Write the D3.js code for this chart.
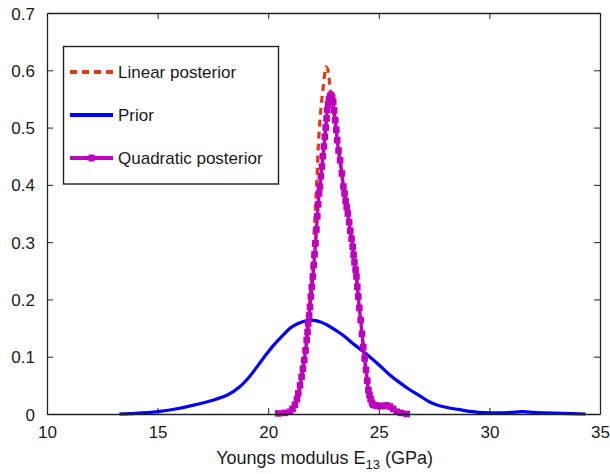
<!DOCTYPE html>
<html>
<head>
<meta charset="utf-8">
<script src="https://cdn.jsdelivr.net/npm/d3@7"></script>
<style>
  html, body { margin: 0; padding: 0; background: #fff; }
  svg { display: block; }
  text { font-family: "Liberation Sans", Arial, Helvetica, sans-serif; fill: #1a1a1a; }
</style>
</head>
<body>
<svg id="chart" width="610" height="474"></svg>
<script>
// ---------------- Data ----------------
const xTicks = [10, 15, 20, 25, 30, 35];
const yTicks = [0, 0.1, 0.2, 0.3, 0.4, 0.5, 0.6, 0.7];
const seriesNames = ["Linear posterior", "Prior", "Quadratic posterior"];

// Linear posterior (red dashed)
const linearX = [20.46, 20.9, 21.2, 21.4, 21.55, 21.7, 21.85, 21.98, 22.08, 22.19, 22.28, 22.39, 22.5, 22.62, 22.68, 22.76, 22.85, 22.95, 23.05, 23.2, 23.4, 23.6, 23.8, 24.0, 24.18, 24.3, 24.42, 24.55, 24.7, 25.0, 25.3, 25.6, 25.9, 26.2];
const linearY = [0, 0.003, 0.014, 0.04, 0.075, 0.12, 0.18, 0.25, 0.32, 0.40, 0.478, 0.536, 0.575, 0.606, 0.603, 0.583, 0.552, 0.53, 0.5, 0.455, 0.397, 0.348, 0.295, 0.235, 0.164, 0.115, 0.075, 0.04, 0.018, 0.013, 0.013, 0.009, 0.003, 0];

// Prior (blue)
const priorX = [13.27, 14.0, 15.0, 16.0, 16.7, 17.5, 18.2, 18.7, 19.15, 19.6, 19.93, 20.2, 20.68, 21.0, 21.4, 21.97, 22.4, 22.9, 23.4, 23.8, 24.3, 25.0, 25.5, 25.8, 26.3, 26.8, 27.3, 27.7, 28.13, 28.6, 29.0, 29.5, 30.0, 30.5, 31.0, 31.5, 32.0, 32.5, 33.3, 34.35];
const priorY = [0, 0.001, 0.004, 0.010, 0.016, 0.024, 0.034, 0.047, 0.065, 0.088, 0.105, 0.118, 0.138, 0.150, 0.159, 0.164, 0.160, 0.150, 0.137, 0.124, 0.109, 0.086, 0.068, 0.059, 0.045, 0.033, 0.021, 0.015, 0.011, 0.008, 0.005, 0.003, 0.002, 0.002, 0.003, 0.004, 0.003, 0.002, 0.001, 0];

// Quadratic posterior (magenta with markers)
const quadX = [20.46, 20.75, 20.99, 21.1, 21.21, 21.3, 21.36, 21.44, 21.51, 21.57, 21.63, 21.69, 21.74, 21.78, 21.81, 21.85, 21.89, 21.93, 21.97, 22.02, 22.06, 22.10, 22.14, 22.18, 22.22, 22.26, 22.30, 22.34, 22.38, 22.43, 22.47, 22.52, 22.56, 22.60, 22.64, 22.67, 22.71, 22.75, 22.80, 22.84, 22.89, 22.94, 22.98, 23.03, 23.08, 23.12, 23.18, 23.25, 23.33, 23.40, 23.45, 23.5, 23.55, 23.6, 23.66, 23.71, 23.77, 23.82, 23.86, 23.9, 23.95, 23.99, 24.03, 24.07, 24.12, 24.18, 24.24, 24.30, 24.36, 24.42, 24.48, 24.53, 24.58, 24.63, 24.69, 24.75, 24.85, 24.95, 25.08, 25.2, 25.35, 25.51, 25.65, 25.81, 26.0, 26.26];
const quadY = [0.001, 0.002, 0.004, 0.009, 0.016, 0.026, 0.036, 0.05, 0.065, 0.079, 0.094, 0.111, 0.129, 0.143, 0.158, 0.172, 0.187, 0.205, 0.222, 0.24, 0.26, 0.279, 0.298, 0.322, 0.345, 0.366, 0.385, 0.397, 0.415, 0.432, 0.45, 0.467, 0.484, 0.50, 0.516, 0.531, 0.541, 0.55, 0.555, 0.557, 0.553, 0.545, 0.53, 0.513, 0.496, 0.478, 0.46, 0.443, 0.42, 0.397, 0.385, 0.372, 0.361, 0.350, 0.335, 0.32, 0.306, 0.292, 0.278, 0.265, 0.252, 0.240, 0.222, 0.205, 0.185, 0.164, 0.14, 0.117, 0.097, 0.077, 0.058, 0.042, 0.033, 0.026, 0.02, 0.016, 0.015, 0.014, 0.014, 0.014, 0.015, 0.013, 0.009, 0.004, 0.002, 0.0];

// ---------------- Chart ----------------
const svg = d3.select("#chart");
const margin = { left: 47, right: 10, top: 13, bottom: 60 };
const W = 610, H = 474;
const x = d3.scaleLinear().domain([10, 35]).range([margin.left, W - margin.right]);
const y = d3.scaleLinear().domain([0, 0.7]).range([H - margin.bottom, margin.top]);

const colors = { linear: "#e03a12", prior: "#0000ff", quad: "#bf00bf" };

const mk = d3.line().x(d => x(d[0])).y(d => y(d[1])).curve(d3.curveCatmullRom.alpha(0.5));

const zip = (a, b) => a.map((v, i) => [v, b[i]]);
const linearData = zip(linearX, linearY);
const priorData = zip(priorX, priorY);
const quadData = zip(quadX, quadY);

const plot = svg.append("g");
plot.append("path").datum(linearData).attr("d", mk)
  .attr("fill", "none").attr("stroke", colors.linear).attr("stroke-width", 3.2)
  .attr("stroke-dasharray", "7,5");
plot.append("path").datum(priorData).attr("d", mk)
  .attr("fill", "none").attr("stroke", colors.prior).attr("stroke-width", 3.2);
plot.append("path").datum(quadData).attr("d", mk)
  .attr("fill", "none").attr("stroke", colors.quad).attr("stroke-width", 3.4);
plot.selectAll("rect.mq").data(quadData).enter().append("rect")
  .attr("class", "mq")
  .attr("x", d => x(d[0]) - 3.3).attr("y", d => y(d[1]) - 3.3)
  .attr("width", 6.6).attr("height", 6.6).attr("fill", colors.quad);

// Axes (inward ticks on all sides)
const fmtY = d => d === 0 ? "0" : d3.format(".1f")(d);
const axB = svg.append("g").attr("transform", `translate(0,${y(0)})`)
  .call(d3.axisBottom(x).tickValues(xTicks).tickSizeInner(-6).tickSizeOuter(0).tickPadding(12));
const axT = svg.append("g").attr("transform", `translate(0,${y(0.7)})`)
  .call(d3.axisTop(x).tickValues(xTicks).tickSizeInner(-6).tickSizeOuter(0).tickFormat(""));
const axL = svg.append("g").attr("transform", `translate(${x(10)},0)`)
  .call(d3.axisLeft(y).tickValues(yTicks).tickSizeInner(-6).tickSizeOuter(0).tickPadding(12).tickFormat(fmtY));
const axR = svg.append("g").attr("transform", `translate(${x(35)},0)`)
  .call(d3.axisRight(y).tickValues(yTicks).tickSizeInner(-6).tickSizeOuter(0).tickFormat(""));

[axB, axT, axL, axR].forEach(g => {
  g.select(".domain").attr("stroke", "#222").attr("stroke-width", 1.3);
  g.selectAll(".tick line").attr("stroke", "#222").attr("stroke-width", 1);
  g.selectAll(".tick text").attr("font-size", 17).attr("fill", "#1a1a1a")
    .attr("font-family", '"Liberation Sans", Arial, sans-serif');
});
axB.selectAll(".tick text").attr("dy", "0.71em").attr("y", 12);
axL.selectAll(".tick text").attr("dy", "0.36em");

// X axis label
const xl = svg.append("text").attr("x", x(22.55)).attr("y", 464)
  .attr("text-anchor", "middle").attr("font-size", 18);
xl.append("tspan").text("Youngs modulus E");
xl.append("tspan").attr("font-size", 13).attr("dy", 5).text("13");
xl.append("tspan").attr("dy", -5).text(" (GPa)");

// Legend
const lg = svg.append("g");
lg.append("rect").attr("x", 63.5).attr("y", 46.5).attr("width", 215).attr("height", 137.5)
  .attr("fill", "#fff").attr("stroke", "#222").attr("stroke-width", 1.4);
const rowsY = [72, 115, 158];
const lx0 = 70, lx1 = 113;
lg.append("line").attr("x1", lx0).attr("x2", lx1).attr("y1", rowsY[0]).attr("y2", rowsY[0])
  .attr("stroke", colors.linear).attr("stroke-width", 4).attr("stroke-dasharray", "7,5");
lg.append("line").attr("x1", lx0).attr("x2", lx1).attr("y1", rowsY[1]).attr("y2", rowsY[1])
  .attr("stroke", colors.prior).attr("stroke-width", 4);
lg.append("line").attr("x1", lx0).attr("x2", lx1).attr("y1", rowsY[2]).attr("y2", rowsY[2])
  .attr("stroke", colors.quad).attr("stroke-width", 4);
lg.append("rect").attr("x", (lx0 + lx1) / 2 - 3).attr("y", rowsY[2] - 3.5).attr("width", 6).attr("height", 7)
  .attr("fill", colors.quad);
seriesNames.forEach((n, i) => {
  lg.append("text").attr("x", 118).attr("y", rowsY[i]).attr("dy", "0.36em")
    .attr("font-size", 17).text(n);
});
</script>
</body>
</html>
